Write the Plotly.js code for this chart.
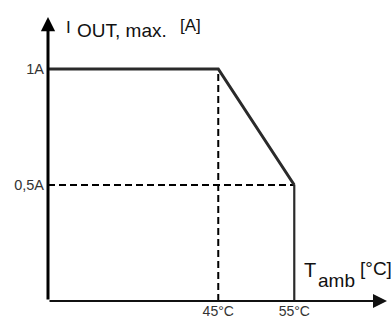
<!DOCTYPE html>
<html>
<head>
<meta charset="utf-8">
<script src="https://cdn.plot.ly/plotly-3.0.1.min.js"></script>
<style>
html,body{margin:0;padding:0;overflow:hidden;background:#fff;}
#chart{width:391px;height:320px;}
</style>
</head>
<body>
<div id="chart"></div>
<script>
// ---- data ----
const axisStartC = 22.6;           // temperature at the y-axis (schematic start)
const axisEndC = 67.2;             // temperature at the x-axis arrow tip
const axisTopA = 1.224;            // current at the y-axis arrow tip
const curveTempC = [axisStartC, 45, 55, 55];
const curveCurrentA = [1, 1, 0.5, 0];
const guide45TempC = [45, 45];
const guide45CurrentA = [0, 1];
const guideHalfTempC = [axisStartC, 55];
const guideHalfCurrentA = [0.5, 0.5];
const xTickVals = [45, 55];
const xTickText = ['45°C', '55°C'];
const yTickVals = [0.5, 1];
const yTickText = ['0,5A', '1A'];

// ---- layout geometry ----
const W = 391, H = 320;
const M = {l: 48, r: 4, t: 17, b: 19};
const PW = W - M.l - M.r, PH = H - M.t - M.b;
const fx = p => (p - M.l) / PW;
const fy = p => (H - M.b - p) / PH;
const FONT = 'Liberation Sans, Arial, Helvetica, sans-serif';

const traces = [
  {x: guide45TempC, y: guide45CurrentA, mode: 'lines', line: {color: '#000', width: 2, dash: '7px,4px'}, hoverinfo: 'skip'},
  {x: guideHalfTempC, y: guideHalfCurrentA, mode: 'lines', line: {color: '#000', width: 2, dash: '7px,4px'}, hoverinfo: 'skip'},
  {x: curveTempC.slice(0, 3), y: curveCurrentA.slice(0, 3), mode: 'lines', line: {color: '#2a2a2a', width: 3}, hoverinfo: 'skip'},
  {x: curveTempC.slice(2), y: curveCurrentA.slice(2), mode: 'lines', line: {color: '#2a2a2a', width: 2.2}, hoverinfo: 'skip'}
];

const layout = {
  width: W, height: H,
  margin: M,
  showlegend: false,
  paper_bgcolor: '#fff', plot_bgcolor: '#fff',
  font: {family: FONT, color: '#333'},
  xaxis: {range: [axisStartC, axisEndC], showgrid: false, zeroline: false, showline: false,
          tickvals: xTickVals, ticktext: xTickText, ticks: '', ticklabelstandoff: 0,
          tickfont: {size: 14, color: '#333'}},
  yaxis: {range: [0, axisTopA], showgrid: false, zeroline: false, showline: false,
          tickvals: yTickVals, ticktext: yTickText, ticks: '', ticklabelstandoff: 3,
          tickfont: {size: 14.5, color: '#333'}},
  annotations: [
    // axes with arrowheads
    {x: axisStartC, y: axisTopA, ax: axisStartC, ay: 0, xref: 'x', yref: 'y', axref: 'x', ayref: 'y',
     text: '', showarrow: true, arrowhead: 2, arrowsize: 0.95, arrowwidth: 3, arrowcolor: '#000'},
    {x: axisEndC, y: 0, ax: axisStartC, ay: 0, xref: 'x', yref: 'y', axref: 'x', ayref: 'y',
     text: '', showarrow: true, arrowhead: 2, arrowsize: 1.4, arrowwidth: 2, arrowcolor: '#111'},
    // y-axis title  I OUT, max. [A]
    {xref: 'paper', yref: 'paper', x: fx(64), y: fy(28), xanchor: 'left', yanchor: 'middle',
     text: 'I', showarrow: false, font: {size: 17, color: '#111'}},
    {xref: 'paper', yref: 'paper', x: fx(75), y: fy(30), xanchor: 'left', yanchor: 'middle',
     text: 'OUT, max.', showarrow: false, font: {size: 19, color: '#111'}},
    {xref: 'paper', yref: 'paper', x: fx(178), y: fy(26), xanchor: 'left', yanchor: 'middle',
     text: '[A]', showarrow: false, font: {size: 17, color: '#111'}},
    // x-axis title  T amb [°C]
    {xref: 'paper', yref: 'paper', x: fx(302), y: fy(270), xanchor: 'left', yanchor: 'middle',
     text: 'T', showarrow: false, font: {size: 20, color: '#111'}},
    {xref: 'paper', yref: 'paper', x: fx(316), y: fy(280), xanchor: 'left', yanchor: 'middle',
     text: 'amb', showarrow: false, font: {size: 19, color: '#111'}},
    {xref: 'paper', yref: 'paper', x: fx(358), y: fy(268), xanchor: 'left', yanchor: 'middle',
     text: '[°C]', showarrow: false, font: {size: 19, color: '#111'}}
  ]
};

Plotly.newPlot('chart', traces, layout, {staticPlot: true, displayModeBar: false});
</script>
</body>
</html>
